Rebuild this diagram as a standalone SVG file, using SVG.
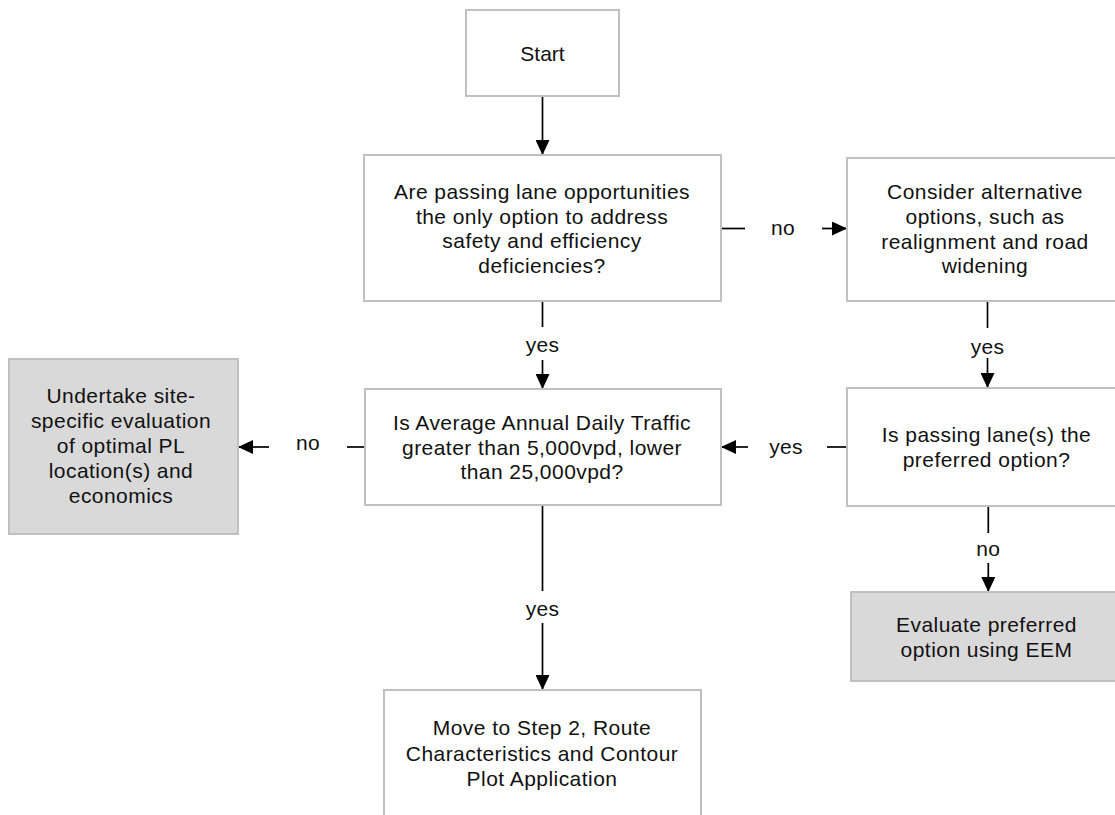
<svg xmlns="http://www.w3.org/2000/svg" width="1115" height="815" viewBox="0 0 1115 815">
  <style>
    .box { fill: #ffffff; stroke: #c0c0c0; stroke-width: 2; }
    .shade { fill: #d9d9d9; stroke: #c0c0c0; stroke-width: 2; }
    .txt { font-family: "Liberation Sans", Arial, sans-serif; font-size: 21px; fill: #111111; text-anchor: middle; letter-spacing: 0.45px; }
    .lbl { font-family: "Liberation Sans", Arial, sans-serif; font-size: 21px; fill: #111111; text-anchor: middle; letter-spacing: 0.3px; }
    .wire { fill: none; stroke: #000000; stroke-width: 1.7; }
  </style>
  <defs>
    <marker id="arrow" markerUnits="userSpaceOnUse" markerWidth="15" markerHeight="14" viewBox="0 0 15 14" refX="15" refY="7" orient="auto">
      <path d="M0,0 L15,7 L0,14 z" fill="#000000"/>
    </marker>
  </defs>

  <rect width="1115" height="815" fill="#ffffff"/>

  <!-- connectors -->
  <g id="connectors">
    <!-- Start to question 1 -->
    <line class="wire" x1="542.5" y1="96" x2="542.5" y2="155" marker-end="url(#arrow)"/>
    <!-- question 1 yes: down to traffic question -->
    <line class="wire" x1="542.5" y1="301" x2="542.5" y2="327"/>
    <line class="wire" x1="542.5" y1="360" x2="542.5" y2="389" marker-end="url(#arrow)"/>
    <text class="lbl" x="542.5" y="352">yes</text>
    <!-- question 1 no: right to alternatives -->
    <line class="wire" x1="721" y1="228.5" x2="745" y2="228.5"/>
    <line class="wire" x1="822" y1="228.5" x2="847" y2="228.5" marker-end="url(#arrow)"/>
    <text class="lbl" x="783" y="235">no</text>
    <!-- alternatives yes: down to preferred-option question -->
    <line class="wire" x1="987.5" y1="301" x2="987.5" y2="328"/>
    <line class="wire" x1="987.5" y1="358" x2="987.5" y2="388" marker-end="url(#arrow)"/>
    <text class="lbl" x="987.5" y="354">yes</text>
    <!-- preferred-option yes: left to traffic question -->
    <line class="wire" x1="847" y1="447" x2="827" y2="447"/>
    <line class="wire" x1="748" y1="447" x2="721" y2="447" marker-end="url(#arrow)"/>
    <text class="lbl" x="786" y="454">yes</text>
    <!-- traffic question no: left to site-specific evaluation -->
    <line class="wire" x1="365" y1="447" x2="347" y2="447"/>
    <line class="wire" x1="269" y1="447" x2="238" y2="447" marker-end="url(#arrow)"/>
    <text class="lbl" x="308" y="450">no</text>
    <!-- preferred-option no: down to EEM evaluation -->
    <line class="wire" x1="988.3" y1="506" x2="988.3" y2="533"/>
    <line class="wire" x1="988.3" y1="563" x2="988.3" y2="592" marker-end="url(#arrow)"/>
    <text class="lbl" x="988.3" y="556">no</text>
    <!-- traffic question yes: down to Step 2 -->
    <line class="wire" x1="542.5" y1="505" x2="542.5" y2="591"/>
    <line class="wire" x1="542.5" y1="623" x2="542.5" y2="690" marker-end="url(#arrow)"/>
    <text class="lbl" x="542.5" y="616">yes</text>
  </g>

  <g id="start">
    <rect class="box" x="466" y="10" width="153" height="86"/>
    <text class="txt" x="542.5" y="61" style="letter-spacing:0">Start</text>
  </g>

  <g id="q-passing-only">
    <rect class="box" x="364" y="155" width="357" height="146"/>
    <text class="txt" x="542" y="199">Are passing lane opportunities</text>
    <text class="txt" x="542" y="224">the only option to address</text>
    <text class="txt" x="542" y="248">safety and efficiency</text>
    <text class="txt" x="542" y="273">deficiencies?</text>
  </g>

  <g id="alternatives">
    <rect class="box" x="847" y="158" width="280" height="143"/>
    <text class="txt" x="985" y="199">Consider alternative</text>
    <text class="txt" x="985" y="224">options, such as</text>
    <text class="txt" x="985" y="249">realignment and road</text>
    <text class="txt" x="985" y="273">widening</text>
  </g>

  <g id="site-evaluation">
    <rect class="shade" x="9" y="359" width="229" height="175"/>
    <text class="txt" x="121" y="403">Undertake site-</text>
    <text class="txt" x="121" y="428">specific evaluation</text>
    <text class="txt" x="121" y="453">of optimal PL</text>
    <text class="txt" x="121" y="478">location(s) and</text>
    <text class="txt" x="121" y="503">economics</text>
  </g>

  <g id="q-traffic">
    <rect class="box" x="365" y="389" width="356" height="116"/>
    <text class="txt" x="542" y="430">Is Average Annual Daily Traffic</text>
    <text class="txt" x="542" y="455">greater than 5,000vpd, lower</text>
    <text class="txt" x="542" y="479">than 25,000vpd?</text>
  </g>

  <g id="q-preferred">
    <rect class="box" x="847" y="388" width="280" height="118"/>
    <text class="txt" x="986.5" y="442">Is passing lane(s) the</text>
    <text class="txt" x="986.5" y="467">preferred option?</text>
  </g>

  <g id="eem-evaluation">
    <rect class="shade" x="851" y="592" width="276" height="89"/>
    <text class="txt" x="986.5" y="632">Evaluate preferred</text>
    <text class="txt" x="986.5" y="657">option using EEM</text>
  </g>

  <g id="step-2">
    <rect class="box" x="384" y="690" width="317" height="140"/>
    <text class="txt" x="542" y="735">Move to Step 2, Route</text>
    <text class="txt" x="542" y="761">Characteristics and Contour</text>
    <text class="txt" x="542" y="786">Plot Application</text>
  </g>
</svg>
